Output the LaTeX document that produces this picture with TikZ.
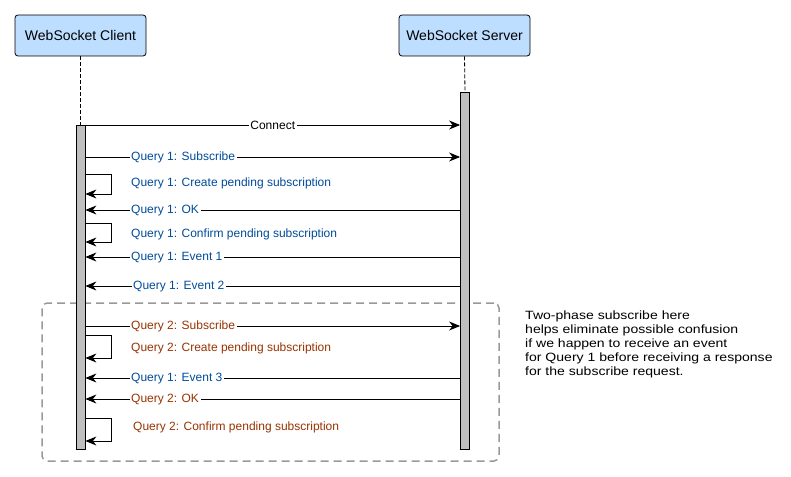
\documentclass[tikz,border=0pt]{standalone}
\usepackage{fontspec}
\setmainfont{Liberation Sans}
\newfontfamily\notefont[FakeStretch=1.17]{Liberation Sans}
\usetikzlibrary{arrows.meta}
\definecolor{hdrblue}{RGB}{190,222,255}
\definecolor{qone}{RGB}{0,76,153}
\definecolor{qtwo}{RGB}{153,51,0}

\begin{document}
\begin{tikzpicture}[x=1pt, y=-1pt,
		actor/.style={draw, rounded corners=3pt, fill=hdrblue, line width=0.8pt, minimum width=131pt, minimum height=41pt, font=\fontsize{14}{16}\selectfont},
		lifebar/.style={draw, fill=black!25, line width=0.8pt, minimum width=9pt, inner sep=0pt},
		life/.style={line width=0.8pt, dash pattern=on 4pt off 2pt},
		msg/.style={line width=0.9pt, -{Stealth[length=11pt, width=9pt, inset=3.5pt]}},
		lbl/.style={fill=white, inner sep=1.5pt, font=\fontsize{12}{14}\selectfont},
		group/.style={draw=black!40, line width=1.5pt, dash pattern=on 8pt off 5pt, rounded corners=5pt, minimum width=457pt, minimum height=158pt},
		notetext/.style={align=left, inner sep=0pt, font=\notefont\fontsize{12}{14}\selectfont}
	]
	\useasboundingbox (0,0) rectangle (791,476);
	% dashed group round the second query
	\node[group] (phase) at (270.5,382) {};
	% actors and lifelines
	\node[actor] (client) at (80.5,35.5) {WebSocket Client};
	\node[actor] (server) at (464.5,35.5) {WebSocket Server};
	\node[lifebar, minimum height=324pt, anchor=north] (cbar) at (80.5,125) {};
	\node[lifebar, minimum height=357pt, anchor=north] (sbar) at (465,92) {};
	\draw[life] (client.south) -- (cbar.north);
	\draw[life] (server.south) -- (sbar.north);
	% message rows
	\coordinate (connect) at (0,125);
	\coordinate (sub1) at (0,157);
	\coordinate (create1) at (0,174);
	\coordinate (create1end) at (0,194);
	\coordinate (ok1) at (0,210);
	\coordinate (confirm1) at (0,223);
	\coordinate (confirm1end) at (0,242);
	\coordinate (event1) at (0,257);
	\coordinate (event2) at (0,286);
	\coordinate (sub2) at (0,326);
	\coordinate (create2) at (0,335);
	\coordinate (create2end) at (0,358);
	\coordinate (event3) at (0,378);
	\coordinate (ok2) at (0,399);
	\coordinate (confirm2) at (0,418);
	\coordinate (confirm2end) at (0,441);
	% messages
	\draw[msg] (cbar.east |- connect) -- node[lbl] (connectlbl) {Connect} (sbar.west |- connect);
	\draw[msg] (cbar.east |- sub1) -- (sbar.west |- sub1);
	\node[lbl, text=qone, anchor=west] (sub1lbl) at (129.5,157.5) {Query 1: Subscribe};
	\draw[msg] (cbar.east |- create1) -- ++(26,0) |- (cbar.east |- create1end);
	\node[lbl, text=qone, anchor=west] (create1lbl) at (129.5,183.5) {Query 1: Create pending subscription};
	\draw[msg] (sbar.west |- ok1) -- (cbar.east |- ok1);
	\node[lbl, text=qone, anchor=west] (ok1lbl) at (129.5,210.5) {Query 1: OK};
	\draw[msg] (cbar.east |- confirm1) -- ++(26,0) |- (cbar.east |- confirm1end);
	\node[lbl, text=qone, anchor=west] (confirm1lbl) at (129.5,234.5) {Query 1: Confirm pending subscription};
	\draw[msg] (sbar.west |- event1) -- (cbar.east |- event1);
	\node[lbl, text=qone, anchor=west] (event1lbl) at (129.5,257.5) {Query 1: Event 1};
	\draw[msg] (sbar.west |- event2) -- (cbar.east |- event2);
	\node[lbl, text=qone, anchor=west] (event2lbl) at (131.5,286.5) {Query 1: Event 2};
	\draw[msg] (cbar.east |- sub2) -- (sbar.west |- sub2);
	\node[lbl, text=qtwo, anchor=west] (sub2lbl) at (129.5,326.5) {Query 2: Subscribe};
	\draw[msg] (cbar.east |- create2) -- ++(26,0) |- (cbar.east |- create2end);
	\node[lbl, text=qtwo, anchor=west] (create2lbl) at (129.5,348.5) {Query 2: Create pending subscription};
	\draw[msg] (sbar.west |- event3) -- (cbar.east |- event3);
	\node[lbl, text=qone, anchor=west] (event3lbl) at (129.5,378.5) {Query 1: Event 3};
	\draw[msg] (sbar.west |- ok2) -- (cbar.east |- ok2);
	\node[lbl, text=qtwo, anchor=west] (ok2lbl) at (129.5,399.5) {Query 2: OK};
	\draw[msg] (cbar.east |- confirm2) -- ++(26,0) |- (cbar.east |- confirm2end);
	\node[lbl, text=qtwo, anchor=west] (confirm2lbl) at (131.5,427.5) {Query 2: Confirm pending subscription};
	% side note
	\node[notetext, anchor=north west] (note) at (525,311) {Two-phase subscribe here\\helps eliminate possible confusion\\if we happen to receive an event\\for Query 1 before receiving a response\\for the subscribe request.};
\end{tikzpicture}
\end{document}
